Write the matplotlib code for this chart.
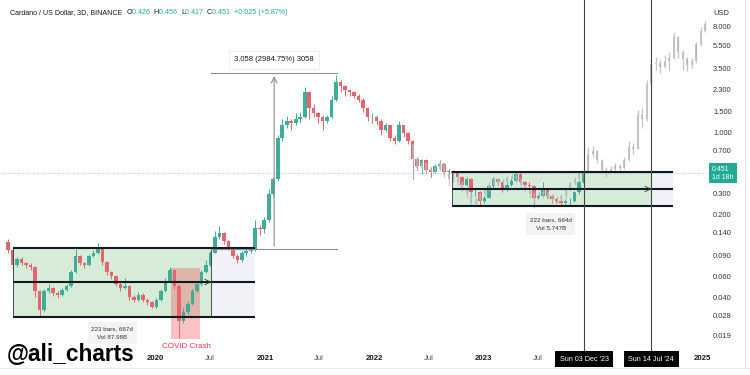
import numpy as np
import pandas as pd
import matplotlib
matplotlib.use("Agg")
import matplotlib.pyplot as plt
import matplotlib.dates as mdates
import matplotlib.transforms as mtransforms
from matplotlib.patches import Rectangle
from matplotlib.lines import Line2D
from matplotlib.ticker import NullLocator

plt.rcParams['font.family'] = ['Liberation Sans', 'DejaVu Sans']

# ---- datos: velas de ADA/USD cada 15 dias ----
start = "2018-08-28"
first_open = 0.118
closes = [0.100, 0.075, 0.085, 0.078, 0.075, 0.072, 0.045, 0.031, 0.045, 0.048,
          0.043, 0.042, 0.046, 0.050, 0.065, 0.090, 0.078, 0.075, 0.090, 0.095,
          0.105, 0.080, 0.065, 0.060, 0.052, 0.048, 0.050, 0.040, 0.038, 0.042,
          0.038, 0.036, 0.033, 0.038, 0.045, 0.055, 0.068, 0.050, 0.025, 0.030,
          0.035, 0.045, 0.052, 0.065, 0.075, 0.095, 0.130, 0.140, 0.120, 0.105,
          0.090, 0.082, 0.095, 0.098, 0.100, 0.155, 0.150, 0.180, 0.300, 0.400,
          0.900, 1.150, 1.250, 1.200, 1.300, 1.350, 2.200, 1.600, 1.450, 1.350,
          1.250, 1.350, 1.900, 2.700, 2.500, 2.300, 2.200, 2.050, 1.900, 1.600,
          1.350, 1.350, 1.250, 1.050, 1.150, 0.900, 0.850, 1.150, 0.980, 0.850,
          0.600, 0.520, 0.580, 0.480, 0.460, 0.520, 0.540, 0.460, 0.470, 0.450,
          0.420, 0.360, 0.400, 0.310, 0.310, 0.260, 0.280, 0.350, 0.400, 0.380,
          0.330, 0.360, 0.390, 0.440, 0.380, 0.360, 0.350, 0.280, 0.290, 0.330,
          0.290, 0.270, 0.260, 0.250, 0.260, 0.260, 0.310, 0.380, 0.451]
highs = [0.125, 0.102, 0.088, 0.088, 0.080, 0.078, 0.073, 0.046, 0.047, 0.052,
         0.049, 0.045, 0.048, 0.052, 0.068, 0.105, 0.091, 0.080, 0.093, 0.100,
         0.116, 0.106, 0.081, 0.066, 0.061, 0.053, 0.058, 0.051, 0.042, 0.044,
         0.043, 0.039, 0.037, 0.039, 0.047, 0.058, 0.072, 0.069, 0.051, 0.032,
         0.037, 0.047, 0.055, 0.068, 0.082, 0.098, 0.145, 0.160, 0.142, 0.123,
         0.107, 0.092, 0.098, 0.104, 0.106, 0.180, 0.165, 0.190, 0.330, 0.420,
         0.950, 1.300, 1.380, 1.300, 1.450, 1.500, 2.450, 2.250, 1.750, 1.500,
         1.400, 1.400, 2.050, 3.100, 2.800, 2.550, 2.350, 2.250, 2.100, 1.950,
         1.650, 1.450, 1.400, 1.300, 1.200, 1.160, 0.950, 1.240, 1.160, 1.000,
         0.870, 0.620, 0.600, 0.590, 0.500, 0.540, 0.580, 0.550, 0.490, 0.480,
         0.460, 0.430, 0.420, 0.410, 0.330, 0.320, 0.290, 0.360, 0.420, 0.410,
         0.390, 0.380, 0.410, 0.460, 0.450, 0.390, 0.380, 0.360, 0.300, 0.380,
         0.335, 0.300, 0.280, 0.270, 0.270, 0.275, 0.320, 0.400, 0.470]
lows = [0.095, 0.068, 0.072, 0.075, 0.071, 0.068, 0.040, 0.027, 0.030, 0.043,
        0.041, 0.039, 0.041, 0.045, 0.049, 0.064, 0.075, 0.070, 0.074, 0.087,
        0.093, 0.075, 0.062, 0.057, 0.050, 0.045, 0.047, 0.038, 0.036, 0.037,
        0.036, 0.034, 0.032, 0.032, 0.037, 0.044, 0.054, 0.047, 0.018, 0.024,
        0.029, 0.034, 0.044, 0.050, 0.064, 0.073, 0.094, 0.125, 0.112, 0.100,
        0.086, 0.078, 0.080, 0.090, 0.094, 0.098, 0.135, 0.140, 0.175, 0.290,
        0.390, 0.850, 1.100, 1.050, 1.150, 1.200, 1.330, 1.300, 1.350, 1.200,
        1.050, 1.200, 1.330, 1.850, 2.200, 2.050, 2.050, 1.950, 1.800, 1.500,
        1.250, 1.200, 1.150, 0.950, 1.000, 0.850, 0.800, 0.830, 0.920, 0.800,
        0.400, 0.480, 0.440, 0.450, 0.420, 0.450, 0.500, 0.440, 0.420, 0.420,
        0.400, 0.350, 0.350, 0.290, 0.290, 0.240, 0.250, 0.275, 0.340, 0.360,
        0.310, 0.320, 0.350, 0.380, 0.370, 0.350, 0.330, 0.235, 0.270, 0.285,
        0.280, 0.250, 0.250, 0.240, 0.245, 0.240, 0.255, 0.300, 0.370]

# patron proyectado (barras grises)
ghost_start = "2022-05-10"
ghost_first_open = 0.80
ghost_closes = [0.60, 0.50, 0.55, 0.47, 0.50, 0.49, 0.55, 0.44, 0.40, 0.43,
                0.38, 0.33, 0.30, 0.25, 0.27, 0.30, 0.33, 0.36, 0.40, 0.37,
                0.38, 0.41, 0.43, 0.40, 0.36, 0.33, 0.30, 0.29, 0.30, 0.31,
                0.29, 0.28, 0.27, 0.29, 0.33, 0.37, 0.40, 0.44, 0.47, 0.66,
                0.70, 0.58, 0.48, 0.47, 0.49, 0.52, 0.50, 0.58, 0.75, 0.72,
                1.40, 1.30, 2.60, 3.80, 3.90, 3.60, 4.00, 4.30, 6.50, 4.80,
                4.20, 3.70, 4.00, 5.60, 7.30, 8.30]
ghost_highs = [0.75, 0.62, 0.58, 0.56, 0.52, 0.53, 0.58, 0.56, 0.45, 0.45,
               0.44, 0.39, 0.34, 0.31, 0.28, 0.31, 0.34, 0.38, 0.42, 0.41,
               0.40, 0.43, 0.45, 0.44, 0.41, 0.37, 0.34, 0.31, 0.32, 0.33,
               0.32, 0.30, 0.29, 0.30, 0.34, 0.38, 0.42, 0.47, 0.50, 0.75,
               0.76, 0.71, 0.59, 0.51, 0.52, 0.55, 0.54, 0.62, 0.85, 0.82,
               1.55, 1.60, 2.80, 4.20, 4.40, 4.10, 4.50, 4.80, 7.10, 6.60,
               5.00, 4.40, 4.30, 5.90, 7.80, 8.80]
ghost_lows = [0.42, 0.47, 0.46, 0.44, 0.45, 0.46, 0.48, 0.42, 0.36, 0.38,
              0.36, 0.31, 0.28, 0.24, 0.24, 0.26, 0.29, 0.32, 0.35, 0.35,
              0.35, 0.37, 0.40, 0.38, 0.34, 0.31, 0.28, 0.23, 0.28, 0.28,
              0.27, 0.26, 0.25, 0.26, 0.28, 0.32, 0.36, 0.39, 0.43, 0.46,
              0.62, 0.55, 0.45, 0.42, 0.45, 0.47, 0.47, 0.49, 0.57, 0.65,
              0.72, 1.10, 1.25, 2.50, 3.40, 3.20, 3.50, 3.30, 4.20, 4.30,
              3.40, 3.30, 3.50, 3.90, 5.40, 7.10]

# rangos (cajas)
box1_dates = ["2018-09-13", "2020-07-06", "2020-11-29"]
box1_levels = [0.1054, 0.0537, 0.02725]
box2_dates = ["2022-09-17", "2024-07-14", "2024-09-24"]
box2_levels = [0.4585, 0.331, 0.237]
covid_dates = ["2020-02-23", "2020-05-31"]
covid_prices = [0.0175, 0.071]
measure_dates = ["2020-07-06", "2021-02-01", "2021-08-30"]
measure_prices = [0.1023, 3.17]
last_price = 0.451

yticks = [8.0, 5.5, 3.5, 2.3, 1.5, 1.0, 0.7, 0.3, 0.2, 0.14, 0.09, 0.06, 0.04, 0.028, 0.019]
xtick_dates = ["2020-01-01", "2020-07-01", "2021-01-01", "2021-07-01", "2022-01-01",
               "2022-07-01", "2023-01-01", "2023-07-01", "2025-01-01"]
xtick_labels = ["2020", "Jul", "2021", "Jul", "2022", "Jul", "2023", "Jul", "2025"]
vline_dates = ["2023-12-03", "2024-07-14"]
vline_labels = ["Sun 03 Dec '23", "Sun 14 Jul '24"]

UP = '#3fae98'
DOWN = '#e8636b'
TEAL = '#22ab94'
DARK = '#131722'


def d(s):
    return mdates.date2num(pd.Timestamp(s).to_pydatetime())


def velas(ax, x, o, h, l, c, width, up, down, alpha=1.0, z=3, wick=0.7):
    o = np.asarray(o)
    c = np.asarray(c)
    cols = [up if cc >= oo else down for oo, cc in zip(o, c)]
    ax.vlines(x, l, h, colors=cols, lw=wick, alpha=alpha, zorder=z)
    ax.bar(x, np.abs(c - o), width=width, bottom=np.minimum(o, c), color=cols,
           alpha=alpha, zorder=z, linewidth=0)


fig = plt.figure(figsize=(7.5, 3.75), dpi=100)
ax = fig.add_axes([0, 23 / 375, 708 / 750, 352 / 375])
ax.set_yscale('log')
ax.set_ylim(0.01367, 13.3)
ax.set_xlim(d("2018-08-01"), d("2025-01-19"))

# velas reales
x = mdates.date2num(pd.date_range(start, periods=len(closes), freq='15D').to_pydatetime())
opens = np.concatenate([[first_open], closes[:-1]])
velas(ax, x, opens, highs, lows, closes, 12, UP, DOWN, z=3)

# barras proyectadas
gx = mdates.date2num(pd.date_range(ghost_start, periods=len(ghost_closes), freq='15D').to_pydatetime())
gopens = np.concatenate([[ghost_first_open], ghost_closes[:-1]])
velas(ax, gx, gopens, ghost_highs, ghost_lows, ghost_closes, 6, '#b4b7bf', '#b4b7bf',
      alpha=0.8, z=4, wick=0.9)


# cajas de rango
def caja(dates, levels):
    x0, x1, x2 = d(dates[0]), d(dates[1]), d(dates[2])
    top, mid, bot = levels
    ax.add_patch(Rectangle((x0, bot), x1 - x0, top - bot, facecolor='#d6ecd8', edgecolor='none', zorder=1))
    ax.add_patch(Rectangle((x1, bot), x2 - x1, top - bot, facecolor='#f0f2f7', edgecolor='none', zorder=1))
    for lv in levels:
        ax.plot([x0, x2], [lv, lv], color=DARK, lw=1.5, zorder=5, solid_capstyle='butt')
    ax.vlines([x0, x1], bot, top, colors='#333333', lw=0.6, zorder=5)
    ax.annotate('', xy=(x1, mid), xytext=(x1 - 12, mid),
                arrowprops=dict(arrowstyle='->', lw=0.6, color='#333333'), zorder=6)


caja(box1_dates, box1_levels)
caja(box2_dates, box2_levels)

# COVID
ax.add_patch(Rectangle((d(covid_dates[0]), covid_prices[0]), d(covid_dates[1]) - d(covid_dates[0]),
                       covid_prices[1] - covid_prices[0], facecolor='#f23645', alpha=0.3,
                       edgecolor='none', zorder=2))
ax.text(d("2020-04-14"), 0.0151, "COVID Crash", color='#f23645', fontsize=5.8,
        ha='center', va='center', zorder=7)

# textos de las cajas
bbox_g = dict(boxstyle='square,pad=0.6', facecolor='#f2f3f5', edgecolor='none')
ax.text(d("2019-08-11"), 0.0198, "223 bars, 667d\nVol 87.98B", fontsize=4.5, ha='center',
        va='center', color='#333333', linespacing=1.9, bbox=bbox_g, zorder=7)
ax.text(d("2023-08-13"), 0.167, "222 bars, 664d\nVol 5.747B", fontsize=4.5, ha='center',
        va='center', color='#333333', linespacing=1.9, bbox=bbox_g, zorder=7)

# medicion
m0, m1, m2 = d(measure_dates[0]), d(measure_dates[1]), d(measure_dates[2])
for p in measure_prices:
    ax.plot([m0, m2], [p, p], color='#8a8d96', lw=0.8, zorder=5)
ax.annotate('', xy=(m1, measure_prices[1]), xytext=(m1, measure_prices[0]),
            arrowprops=dict(arrowstyle='->', lw=0.8, color='#8a8d96'), zorder=5)
ax.text(m1, 4.12, "3.058 (2984.75%) 3058", fontsize=5.5, ha='center', va='center', color=DARK,
        bbox=dict(boxstyle='square,pad=0.7', facecolor='white', edgecolor='#e6e7ea', lw=0.5), zorder=7)

# lineas verticales
for vd, vl in zip(vline_dates, vline_labels):
    ax.axvline(d(vd), color='#444444', lw=0.8, zorder=6)
    ax.text(d(vd), -0.02, vl, transform=ax.get_xaxis_transform(), fontsize=5.2, color='white',
            ha='center', va='center', clip_on=False,
            bbox=dict(boxstyle='square,pad=0.6', facecolor='#000000', edgecolor='none'), zorder=8)

# precio actual
ax.axhline(last_price, color=TEAL, lw=0.6, ls=(0, (1, 2)), alpha=0.6, zorder=2)
trans = mtransforms.blended_transform_factory(ax.transAxes, ax.transData)
ax.text(1.006, last_price, "0.451\n1d 18h", transform=trans, fontsize=5, color='white',
        ha='left', va='center', linespacing=1.15, clip_on=False,
        bbox=dict(boxstyle='square,pad=0.4', facecolor=TEAL, edgecolor='none'), zorder=8)

# ejes
for s in ax.spines.values():
    s.set_visible(False)
ax.yaxis.tick_right()
ax.set_yticks(yticks)
ax.set_yticklabels([f"{t:.3f}" for t in yticks])
ax.yaxis.set_minor_locator(NullLocator())
ax.tick_params(axis='y', length=0, pad=3.6, labelsize=5.4, labelcolor='#333333')
ax.set_xticks([d(t) for t in xtick_dates])
ax.set_xticklabels(xtick_labels)
ax.xaxis.set_minor_locator(NullLocator())
ax.tick_params(axis='x', length=0, pad=2.5, labelsize=5.6, labelcolor='#50535e')
for lab in ax.get_xticklabels():
    if lab.get_text() != 'Jul':
        lab.set_fontweight('bold')
        lab.set_color(DARK)
ax.text(1.007, 0.963, "USD", transform=ax.transAxes, fontsize=5.4, color='#333333',
        ha='left', va='center')

# titulo con colores
partes = [("Cardano / US Dollar, 3D, BINANCE  ", DARK), ("O", DARK), ("0.426  ", TEAL),
          ("H", DARK), ("0.456  ", TEAL), ("L", DARK), ("0.417  ", TEAL),
          ("C", DARK), ("0.451  ", TEAL), ("+0.025 (+5.87%)", TEAL)]
prev = fig.text(10 / 750, 1 - 16 / 375, partes[0][0], fontsize=5.1, color=partes[0][1], va='bottom')
for txt, col in partes[1:]:
    prev = ax.annotate(txt, xy=(1, 0), xycoords=prev, fontsize=5.1, color=col, va='bottom',
                       annotation_clip=False)

# marca de agua
fig.text(7 / 750, 1 - 361 / 375, "@ali_charts", fontsize=16.3, fontweight='bold', color='black',
         va='baseline')

# bordes
fig.add_artist(Line2D([0, 1], [1 - 368 / 375] * 2, color='#e4e6eb', lw=0.6))
fig.add_artist(Line2D([745 / 750] * 2, [1 - 368 / 375, 1], color='#e4e6eb', lw=0.6))

fig.savefig("out.png", dpi=100)
plt.close()
